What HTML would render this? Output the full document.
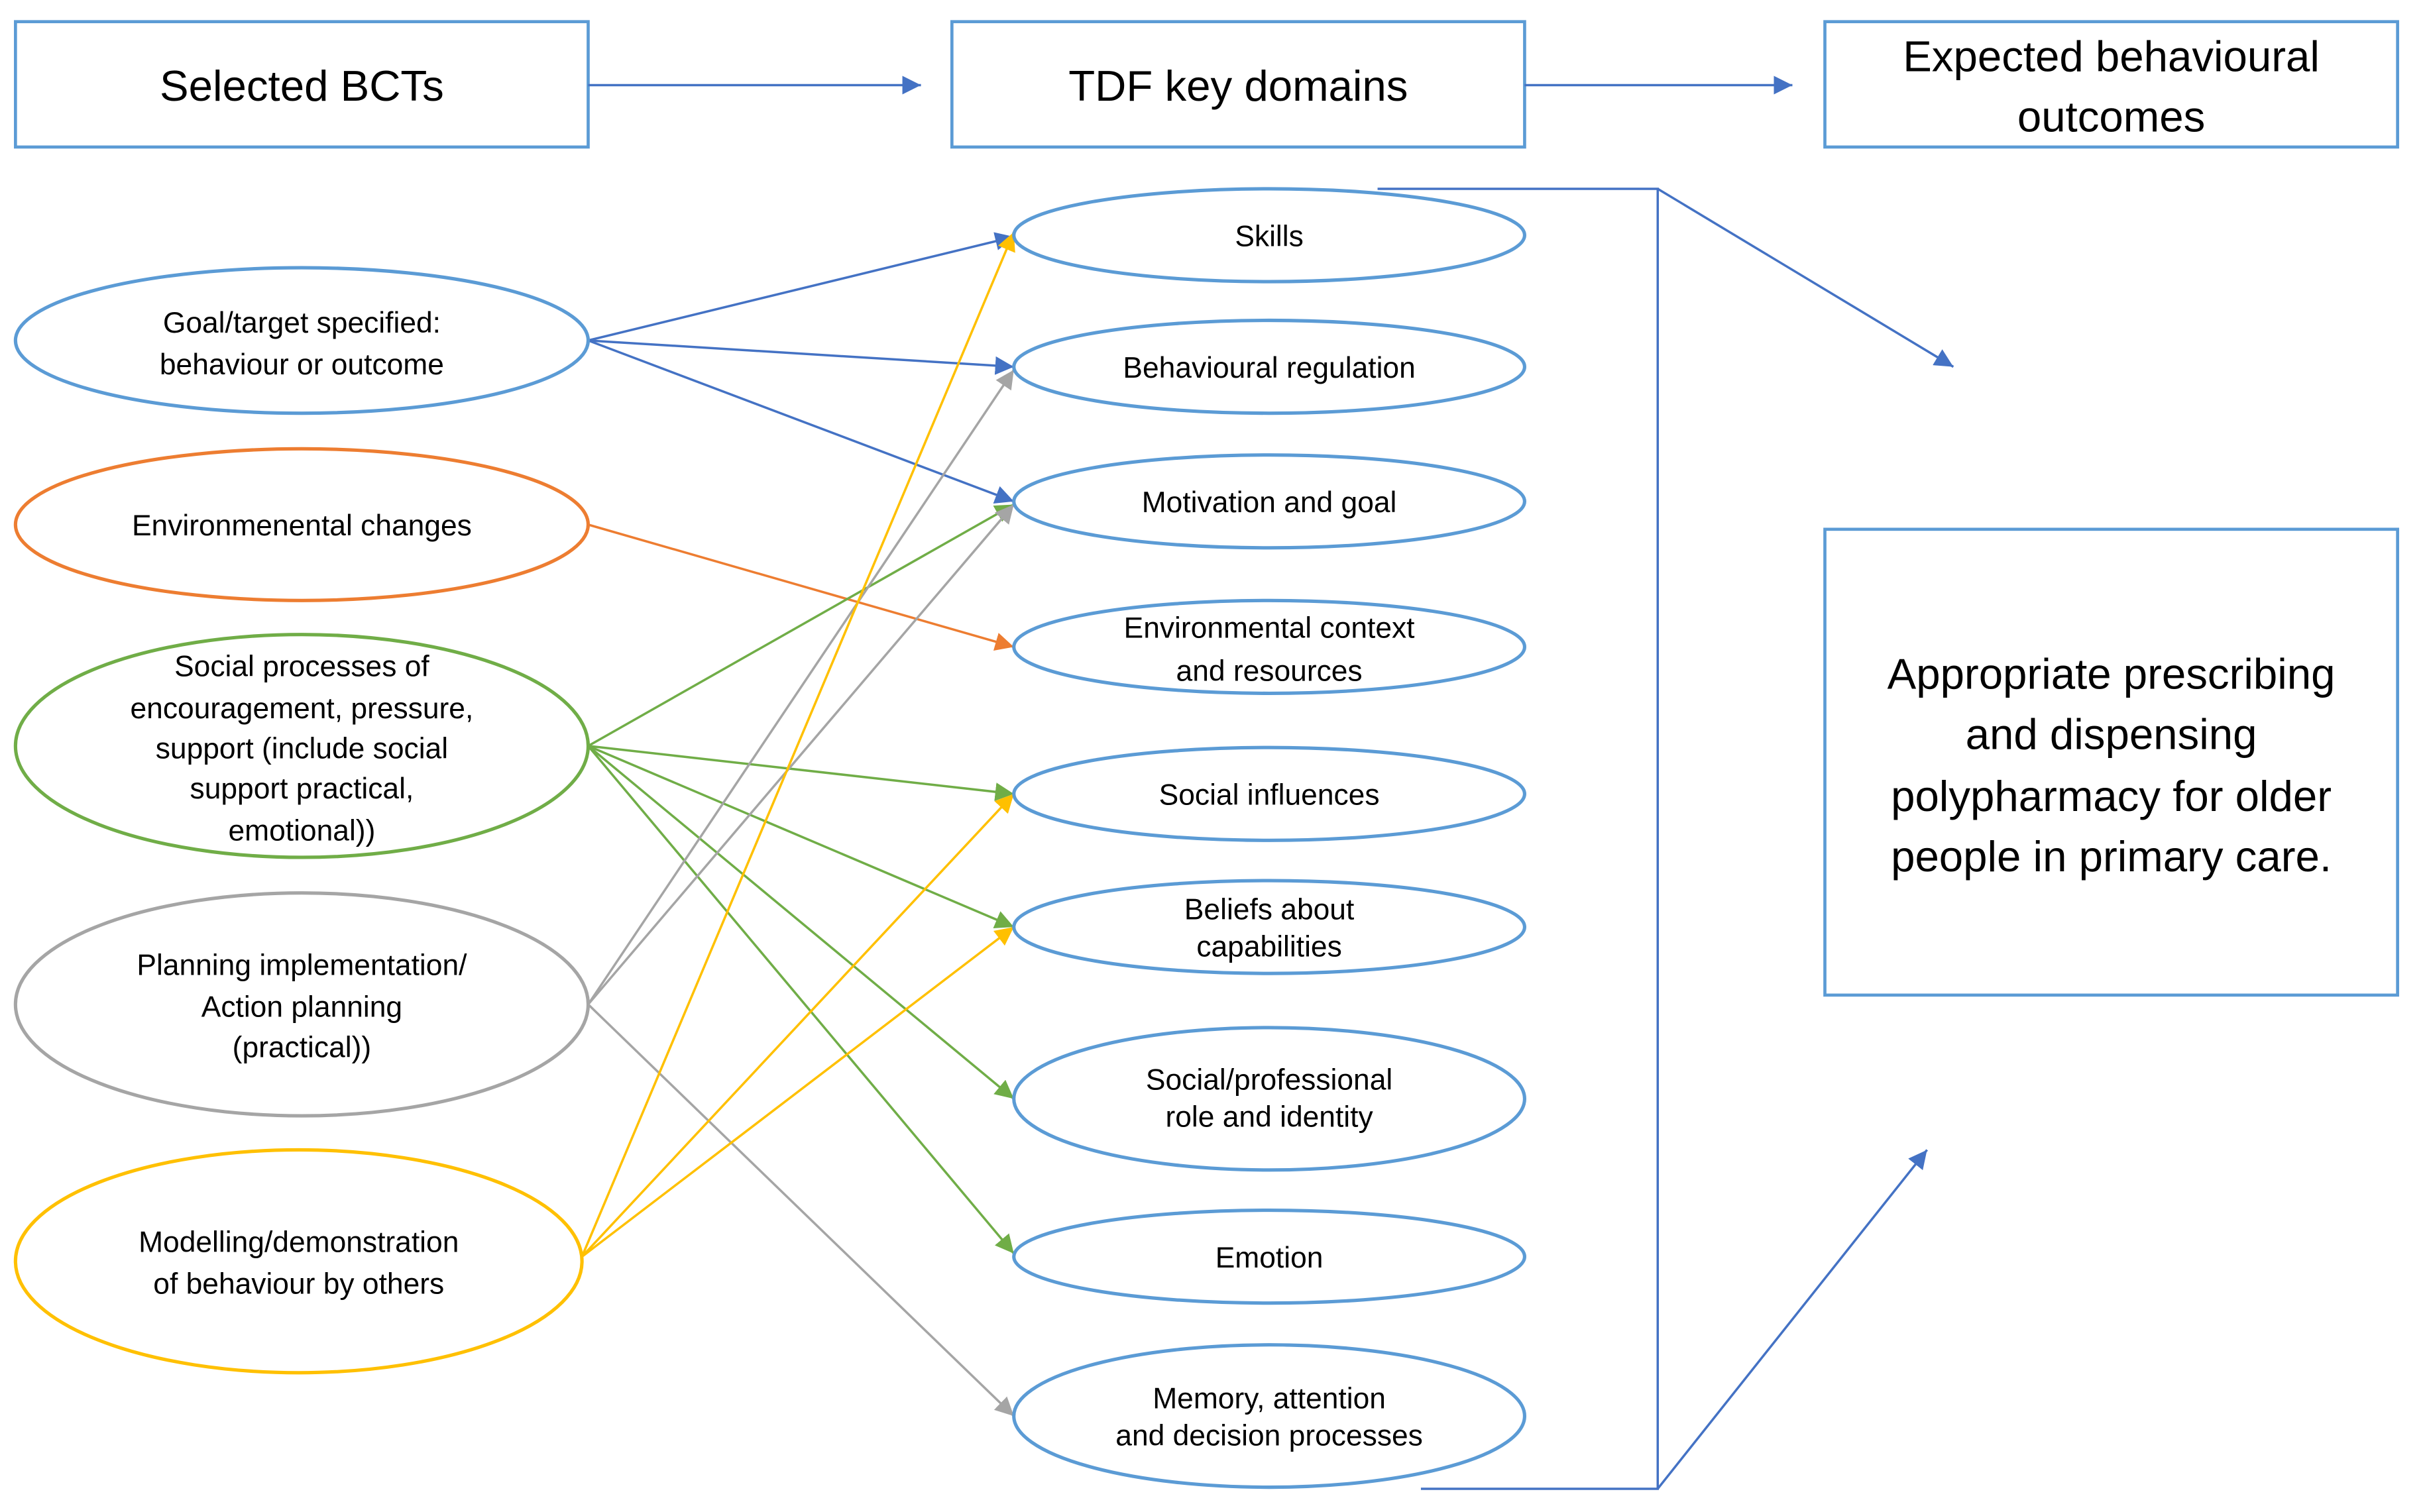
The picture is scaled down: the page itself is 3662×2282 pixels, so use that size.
<!DOCTYPE html>
<html><head><meta charset="utf-8"><style>
html,body{margin:0;padding:0;background:#fff;}
svg{display:block;}
text{font-family:"Liberation Sans",sans-serif;fill:#000;}
</style></head><body>
<svg width="3662" height="2282" viewBox="0 0 1568 977" preserveAspectRatio="none" xmlns="http://www.w3.org/2000/svg">
<defs>
<marker id="mbb" viewBox="0 0 10 10" refX="10" refY="5" markerWidth="12" markerHeight="12" orient="auto" markerUnits="userSpaceOnUse"><path d="M0,0L10,5L0,10z" fill="#4472c4"/></marker>
<marker id="mo" viewBox="0 0 10 10" refX="10" refY="5" markerWidth="12" markerHeight="12" orient="auto" markerUnits="userSpaceOnUse"><path d="M0,0L10,5L0,10z" fill="#ed7d31"/></marker>
<marker id="mg" viewBox="0 0 10 10" refX="10" refY="5" markerWidth="12" markerHeight="12" orient="auto" markerUnits="userSpaceOnUse"><path d="M0,0L10,5L0,10z" fill="#70ad47"/></marker>
<marker id="mr" viewBox="0 0 10 10" refX="10" refY="5" markerWidth="12" markerHeight="12" orient="auto" markerUnits="userSpaceOnUse"><path d="M0,0L10,5L0,10z" fill="#a5a5a5"/></marker>
<marker id="my" viewBox="0 0 10 10" refX="10" refY="5" markerWidth="12" markerHeight="12" orient="auto" markerUnits="userSpaceOnUse"><path d="M0,0L10,5L0,10z" fill="#ffc000"/></marker>
</defs>
<g fill="none" stroke="#5b9bd5" stroke-width="2">
<rect x="10" y="14" width="370" height="81"/>
<rect x="615" y="14" width="370" height="81"/>
<rect x="1179" y="14" width="370" height="81"/>
<rect x="1179" y="342" width="370" height="301"/>
</g>
<g font-size="28" text-anchor="middle">
<text x="195" y="65">Selected BCTs</text>
<text x="800" y="65">TDF key domains</text>
<text x="1364" y="46">Expected behavioural</text>
<text x="1364" y="85">outcomes</text>
</g>
<g font-size="28" text-anchor="middle">
<text x="1364" y="445">Appropriate prescribing</text>
<text x="1364" y="484">and dispensing</text>
<text x="1364" y="524">polypharmacy for older</text>
<text x="1364" y="563">people in primary care.</text>
</g>
<g stroke="#4472c4" stroke-width="1.5" fill="none">
<line x1="380" y1="55" x2="595" y2="55" marker-end="url(#mbb)"/>
<line x1="985" y1="55" x2="1158" y2="55" marker-end="url(#mbb)"/>
<polyline points="890,122 1071,122 1071,962 918,962"/>
<line x1="1071" y1="122" x2="1262" y2="237" marker-end="url(#mbb)"/>
<line x1="1071" y1="962" x2="1245" y2="743" marker-end="url(#mbb)"/>
</g>
<g stroke-width="1.5" fill="none">
<line x1="380" y1="220" x2="655" y2="153" stroke="#4472c4" marker-end="url(#mbb)"/>
<line x1="380" y1="220" x2="655" y2="237" stroke="#4472c4" marker-end="url(#mbb)"/>
<line x1="380" y1="220" x2="655" y2="324" stroke="#4472c4" marker-end="url(#mbb)"/>
<line x1="380" y1="339" x2="655" y2="418" stroke="#ed7d31" marker-end="url(#mo)"/>
<line x1="380" y1="482" x2="655" y2="326" stroke="#70ad47" marker-end="url(#mg)"/>
<line x1="380" y1="482" x2="655" y2="513" stroke="#70ad47" marker-end="url(#mg)"/>
<line x1="380" y1="482" x2="655" y2="599" stroke="#70ad47" marker-end="url(#mg)"/>
<line x1="380" y1="482" x2="655" y2="710" stroke="#70ad47" marker-end="url(#mg)"/>
<line x1="380" y1="482" x2="655" y2="810" stroke="#70ad47" marker-end="url(#mg)"/>
<line x1="380" y1="649" x2="655" y2="239" stroke="#a5a5a5" marker-end="url(#mr)"/>
<line x1="380" y1="649" x2="655" y2="326" stroke="#a5a5a5" marker-end="url(#mr)"/>
<line x1="380" y1="649" x2="655" y2="915" stroke="#a5a5a5" marker-end="url(#mr)"/>
<line x1="376" y1="812" x2="655" y2="150" stroke="#ffc000" marker-end="url(#my)"/>
<line x1="376" y1="812" x2="655" y2="513" stroke="#ffc000" marker-end="url(#my)"/>
<line x1="376" y1="812" x2="655" y2="599" stroke="#ffc000" marker-end="url(#my)"/>
</g>
<g fill="none" stroke-width="2.2">
<ellipse cx="195" cy="220" rx="185" ry="47" stroke="#5b9bd5"/>
<ellipse cx="195" cy="339" rx="185" ry="49" stroke="#ed7d31"/>
<ellipse cx="195" cy="482" rx="185" ry="72" stroke="#70ad47"/>
<ellipse cx="195" cy="649" rx="185" ry="72" stroke="#a5a5a5"/>
<ellipse cx="193" cy="815" rx="183" ry="72" stroke="#ffc000"/>
</g>
<g fill="none" stroke="#5b9bd5" stroke-width="2.2">
<ellipse cx="820" cy="152" rx="165" ry="30"/>
<ellipse cx="820" cy="237" rx="165" ry="30"/>
<ellipse cx="820" cy="324" rx="165" ry="30"/>
<ellipse cx="820" cy="418" rx="165" ry="30"/>
<ellipse cx="820" cy="513" rx="165" ry="30"/>
<ellipse cx="820" cy="599" rx="165" ry="30"/>
<ellipse cx="820" cy="710" rx="165" ry="46"/>
<ellipse cx="820" cy="812" rx="165" ry="30"/>
<ellipse cx="820" cy="915" rx="165" ry="46"/>
</g>
<g font-size="19" text-anchor="middle">
<text x="195" y="215">Goal/target specified:</text>
<text x="195" y="242">behaviour or outcome</text>
<text x="195" y="346">Environmenental changes</text>
<text x="195" y="437">Social processes of</text>
<text x="195" y="464">encouragement, pressure,</text>
<text x="195" y="490">support (include social</text>
<text x="195" y="516">support practical,</text>
<text x="195" y="543">emotional))</text>
<text x="195" y="630">Planning implementation/</text>
<text x="195" y="657">Action planning</text>
<text x="195" y="683">(practical))</text>
<text x="193" y="809">Modelling/demonstration</text>
<text x="193" y="836">of behaviour by others</text>
<text x="820" y="159">Skills</text>
<text x="820" y="244">Behavioural regulation</text>
<text x="820" y="331">Motivation and goal</text>
<text x="820" y="412">Environmental context</text>
<text x="820" y="440">and resources</text>
<text x="820" y="520">Social influences</text>
<text x="820" y="594">Beliefs about</text>
<text x="820" y="618">capabilities</text>
<text x="820" y="704">Social/professional</text>
<text x="820" y="728">role and identity</text>
<text x="820" y="819">Emotion</text>
<text x="820" y="910">Memory, attention</text>
<text x="820" y="934">and decision processes</text>
</g>
</svg>
</body></html>
